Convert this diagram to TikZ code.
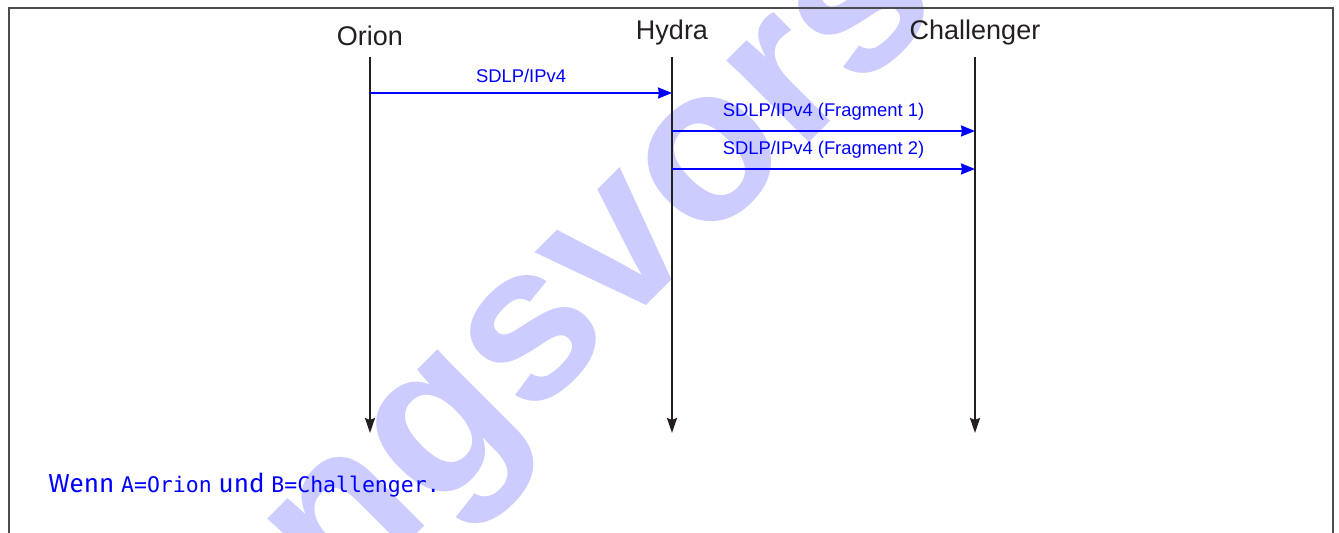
\documentclass[tikz,border=0pt]{standalone}
\usepackage{fontspec}
\setsansfont{Liberation Sans}
\setmonofont{DejaVu Sans Mono}
\newfontfamily\notefont{Fira Sans}
\usetikzlibrary{arrows.meta}
\definecolor{lifegray}{HTML}{231F20}
\newcommand{\tcode}[1]{{\ttfamily\fontsize{10.75}{13}\selectfont #1}}

\begin{document}
\begin{tikzpicture}[x=0.5pt, y=0.5pt,
  title/.style={font=\sffamily\fontsize{13.5}{16}\selectfont, text=lifegray, inner sep=0pt, anchor=south},
  life/.style={line width=1pt, draw=lifegray, -{Stealth[length=7.5pt,width=5pt,inset=1pt]}},
  msg/.style={line width=1pt, draw=blue, -{Stealth[length=7pt,width=5.5pt,inset=0.5pt]}},
  lbl/.style={font=\sffamily\fontsize{9.2}{11}\selectfont, text=blue, inner sep=0pt, above=4.7pt}]

\useasboundingbox (0,0) rectangle (1339,533);
\begin{scope}
\clip (0,0) rectangle (1339,533);
\node[rotate=45, text=blue!20, font=\sffamily\bfseries\fontsize{110}{110}\selectfont] (mark) at (620,281) {Lösungsvorschlag};
\end{scope}

\draw[line width=0.6pt, draw=black!70] (9,0) -- (9,525) -- (1333,525) -- (1333,0);

\node[title] (orion) at (370,487) {Orion};
\node[title] (hydra) at (672,487) {Hydra};
\node[title] (challenger) at (975,487) {Challenger};

\draw[life] (orion |- 0,476) -- (orion |- 0,100);
\draw[life] (hydra |- 0,476) -- (hydra |- 0,100);
\draw[life] (challenger |- 0,476) -- (challenger |- 0,100);

\draw[msg] (orion |- 0,440) -- node[lbl] {SDLP/IPv4} (hydra |- 0,440);
\draw[msg] (hydra |- 0,402) -- node[lbl] {SDLP/IPv4 (Fragment 1)} (challenger |- 0,402);
\draw[msg] (hydra |- 0,364) -- node[lbl] {SDLP/IPv4 (Fragment 2)} (challenger |- 0,364);

\node[anchor=base west, inner sep=0pt, text=blue, font=\notefont\fontsize{13}{15}\selectfont] (note) at (48,40)
  {Wenn \tcode{A=Orion} und \tcode{B=Challenger.}};

\end{tikzpicture}
\end{document}
